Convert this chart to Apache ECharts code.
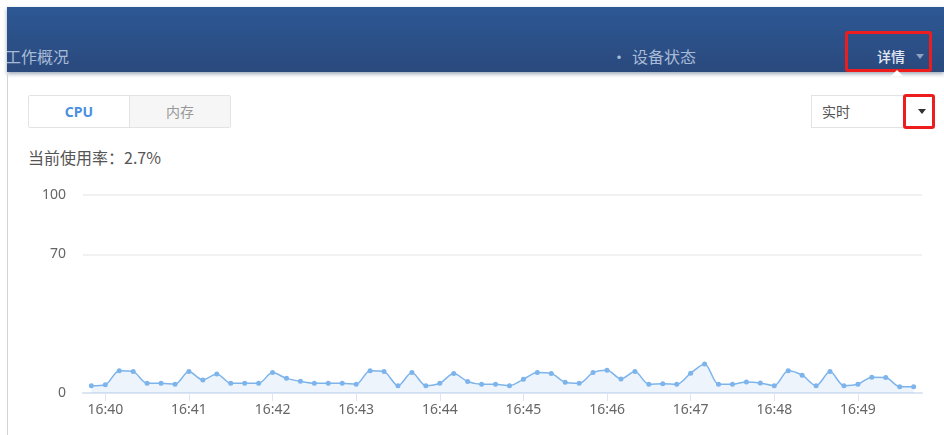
<!DOCTYPE html>
<html>
<head>
<meta charset="utf-8">
<script src="https://cdn.jsdelivr.net/npm/echarts@6/dist/echarts.min.js"></script>
<style>
    html, body {
        margin: 0;
        padding: 0;
        width: 944px;
        height: 435px;
        overflow: hidden;
        background: #fff;
        font-family: "Noto Sans CJK SC", "Noto Sans", sans-serif;
    }
    .header {
        position: absolute;
        left: 7px;
        top: 7px;
        width: 937px;
        height: 65px;
        background: linear-gradient(#2d5894, #2a497d);
        box-shadow: 0 2px 4px rgba(40, 60, 100, 0.45);
        overflow: hidden;
    }
    .header .title {
        position: absolute;
        left: -2px;
        top: 38px;
        font-size: 16px;
        line-height: 22px;
        color: #a8bbd6;
    }
    .header .status {
        position: absolute;
        left: 606px;
        top: 38px;
        font-size: 16px;
        line-height: 22px;
        color: #a8bbd6;
    }
    .header .status .dot {
        position: absolute;
        left: -2px;
        top: 0;
        font-size: 16px;
    }
    .header .status .txt {
        margin-left: 19px;
    }
    .header .detail {
        position: absolute;
        left: 870px;
        top: 39px;
        font-size: 14px;
        line-height: 20px;
        font-weight: 500;
        color: #e3eaf4;
    }
    .header .caret {
        position: absolute;
        left: 909px;
        top: 47px;
        width: 0;
        height: 0;
        border-left: 4px solid transparent;
        border-right: 4px solid transparent;
        border-top: 5px solid #8ea2c0;
    }
    .red-box {
        position: absolute;
        border: 3px solid #ee1d1d;
        border-radius: 3px;
        box-sizing: border-box;
    }
    .notch {
        position: absolute;
        left: 891px;
        top: 70px;
        width: 0;
        height: 0;
        border-left: 6px solid transparent;
        border-right: 6px solid transparent;
        border-bottom: 6px solid #fff;
    }
    .panel-edge {
        position: absolute;
        left: 7px;
        top: 74px;
        width: 1px;
        height: 361px;
        background: #d4d4d4;
    }
    .tabs {
        position: absolute;
        left: 28px;
        top: 95px;
        width: 203px;
        height: 33px;
        border: 1px solid #e3e3e3;
        border-radius: 2px;
        box-sizing: border-box;
        display: flex;
    }
    .tabs div {
        width: 101px;
        height: 31px;
        line-height: 31px;
        text-align: center;
        font-size: 14px;
    }
    .tabs .on {
        color: #4a8fe0;
        font-weight: bold;
        border-right: 1px solid #e3e3e3;
        font-family: "Noto Sans", sans-serif;
    }
    .tabs .off {
        color: #999;
        background: #f6f6f6;
    }
    .select {
        position: absolute;
        left: 811px;
        top: 95px;
        width: 124px;
        height: 33px;
        border: 1px solid #e3e3e3;
        box-sizing: border-box;
        font-size: 14px;
        line-height: 31px;
        color: #555;
        padding-left: 10px;
    }
    .select .arrow {
        position: absolute;
        left: 106px;
        top: 13px;
        width: 0;
        height: 0;
        border-left: 4px solid transparent;
        border-right: 4px solid transparent;
        border-top: 5px solid #333;
    }
    .usage {
        position: absolute;
        left: 28px;
        top: 146px;
        font-size: 16px;
        line-height: 22px;
        color: #555;
    }
    #container {
        position: absolute;
        left: 0;
        top: 170px;
        width: 944px;
        height: 265px;
    }
</style>
</head>
<body>
<div class="header">
    <div class="title">工作概况</div>
    <div class="status"><span class="dot">•</span><span class="txt">设备状态</span></div>
    <div class="detail">详情</div>
    <div class="caret"></div>
</div>
<div class="red-box" style="left:845px;top:31px;width:87px;height:41px;"></div>
<div class="notch"></div>
<div class="panel-edge"></div>
<div class="tabs"><div class="on">CPU</div><div class="off">内存</div></div>
<div class="select">实时<div class="arrow"></div></div>
<div class="red-box" style="left:903px;top:94px;width:32px;height:35px;"></div>
<div class="usage">当前使用率：2.7%</div>
<div id="container"></div>
<script>
var day = '2024-01-01 ';
var times = [
    '16:39:50',
    '16:40:00', '16:40:10', '16:40:20', '16:40:30', '16:40:40', '16:40:50',
    '16:41:00', '16:41:10', '16:41:20', '16:41:30', '16:41:40', '16:41:50',
    '16:42:00', '16:42:10', '16:42:20', '16:42:30', '16:42:40', '16:42:50',
    '16:43:00', '16:43:10', '16:43:20', '16:43:30', '16:43:40', '16:43:50',
    '16:44:00', '16:44:10', '16:44:20', '16:44:30', '16:44:40', '16:44:50',
    '16:45:00', '16:45:10', '16:45:20', '16:45:30', '16:45:40', '16:45:50',
    '16:46:00', '16:46:10', '16:46:20', '16:46:30', '16:46:40', '16:46:50',
    '16:47:00', '16:47:10', '16:47:20', '16:47:30', '16:47:40', '16:47:50',
    '16:48:00', '16:48:10', '16:48:20', '16:48:30', '16:48:40', '16:48:50',
    '16:49:00', '16:49:10', '16:49:20', '16:49:30', '16:49:40'
];
var cpu_values = [
    3.7,
    4.2, 11.3, 10.8, 4.9, 4.9, 4.4,
    10.8, 6.6, 9.6, 4.9, 4.9, 4.9,
    10.3, 7.4, 5.9, 4.9, 4.9, 4.9,
    4.4, 11.3, 10.8, 3.7, 10.3, 3.7,
    4.9, 9.8, 5.8, 4.4, 4.4, 3.7,
    6.9, 10.3, 9.8, 5.4, 4.9, 10.3,
    11.5, 7.1, 10.8, 4.4, 4.7, 4.4,
    10.0, 14.7, 4.4, 4.4, 5.6, 5.1,
    3.7, 11.3, 9.0, 3.7, 10.8, 3.7,
    4.4, 8.0, 7.8, 3.2, 3.2
];
var y_labels = [0, 70, 100];
var grid_values = [70, 100];
var axis_start = '16:39:44';
var axis_end = '16:49:46';

var dom = document.getElementById('container');
var cpuChart = echarts.init(dom, null, { renderer: 'canvas' });

var series_data = times.map(function (t, i) {
    return [echarts.time.parse(day + t).getTime(), cpu_values[i]];
});

var cpuOption = {
    animation: false,
    grid: {
        left: 83,
        right: 22,
        top: 25,
        bottom: 42
    },
    xAxis: {
        type: 'time',
        min: echarts.time.parse(day + axis_start).getTime(),
        max: echarts.time.parse(day + axis_end).getTime(),
        minInterval: 60 * 1000,
        maxInterval: 60 * 1000,
        axisLine: {
            lineStyle: { color: '#dbe5f4', width: 2 }
        },
        axisTick: {
            show: true,
            length: 8,
            lineStyle: { color: '#dbe5f4', width: 1 }
        },
        axisLabel: {
            formatter: '{HH}:{mm}',
            color: '#666',
            fontSize: 14,
            fontFamily: 'Noto Sans',
            margin: 10
        },
        splitLine: { show: false }
    },
    yAxis: {
        type: 'value',
        min: 0,
        max: 100,
        axisLine: { show: false },
        axisTick: { show: false },
        splitLine: { show: false },
        axisLabel: {
            customValues: y_labels,
            color: '#666',
            fontSize: 14,
            fontFamily: 'Noto Sans',
            margin: 17,
            padding: [0, 0, 3, 0]
        }
    },
    series: [
        {
            type: 'line',
            data: series_data,
            smooth: 0.3,
            symbol: 'circle',
            symbolSize: 5,
            showAllSymbol: true,
            lineStyle: { color: '#7db4ec', width: 1.5 },
            itemStyle: { color: '#7db4ec' },
            areaStyle: { color: 'rgba(125, 180, 236, 0.2)' },
            markLine: {
                silent: true,
                symbol: 'none',
                label: { show: false },
                lineStyle: { color: '#f1f1f1', width: 2, type: 'solid' },
                data: grid_values.map(function (v) { return { yAxis: v }; })
            }
        }
    ]
};

cpuChart.setOption(cpuOption, true);
</script>
</body>
</html>
